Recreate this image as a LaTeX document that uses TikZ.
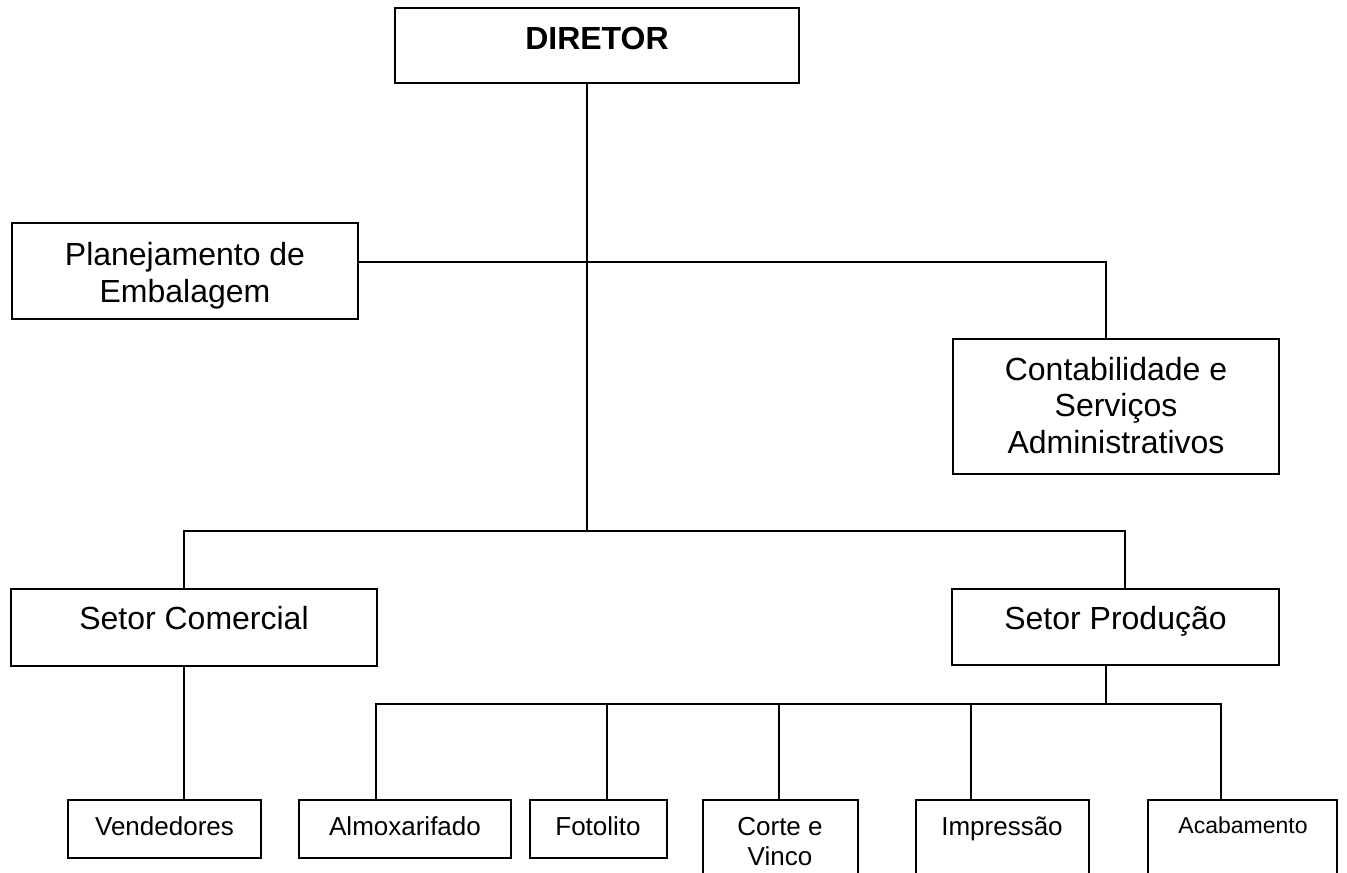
\documentclass[tikz,border=0pt]{standalone}
\usepackage{fontspec}
\setmainfont{Liberation Sans}
\usetikzlibrary{fit}
\tikzset{
  orgbox/.style={draw=black, line width=1.4pt, inner sep=0pt, fill=none},
  conn/.style={draw=black, line width=1.4pt},
  bigtxt/.style={anchor=base, inner sep=0pt, font=\fontsize{32}{37}\selectfont},
  boldtxt/.style={anchor=base, inner sep=0pt, font=\fontsize{32}{37}\selectfont\bfseries},
  smalltxt/.style={anchor=base, inner sep=0pt, font=\fontsize{26}{30}\selectfont},
  tinytxt/.style={anchor=base, inner sep=0pt, font=\fontsize{23}{27}\selectfont},
}
\begin{document}
\begin{tikzpicture}[x=1pt,y=-1pt]
\clip (0,0) rectangle (1347,873);
\fill[white] (0,0) rectangle (1347,873);
% boxes
\node[orgbox, fit={(395,8)(799,83)}] (dir) {};
\node[orgbox, fit={(12,223)(358,319)}] (plan) {};
\node[orgbox, fit={(953,339)(1279,474)}] (cont) {};
\node[orgbox, fit={(11,589)(377,666)}] (com) {};
\node[orgbox, fit={(952,589)(1279,665)}] (prod) {};
\node[orgbox, fit={(68,800)(261,858)}] (vend) {};
\node[orgbox, fit={(299,800)(511,858)}] (alm) {};
\node[orgbox, fit={(530,800)(667,858)}] (foto) {};
\node[orgbox, fit={(703,800)(858,900)}] (corte) {};
\node[orgbox, fit={(916,800)(1089,900)}] (imp) {};
\node[orgbox, fit={(1148,800)(1337,900)}] (acab) {};
% texts
\node[boldtxt] (tdir) at (597,49) {DIRETOR};
\node[bigtxt] (tplan1) at (185,265) {Planejamento de};
\node[bigtxt] (tplan2) at (185,302) {Embalagem};
\node[bigtxt] (tcont1) at (1116,380) {Contabilidade e};
\node[bigtxt] (tcont2) at (1116,416.5) {Serviços};
\node[bigtxt] (tcont3) at (1116,453) {Administrativos};
\node[bigtxt] (tcom) at (194,629) {Setor Comercial};
\node[bigtxt] (tprod) at (1115.5,629) {Setor Produção};
\node[smalltxt] (tvend) at (164.5,835) {Vendedores};
\node[smalltxt] (talm) at (405,835) {Almoxarifado};
\node[smalltxt] (tfoto) at (598,835) {Fotolito};
\node[smalltxt] (tcorte1) at (780,835) {Corte e};
\node[smalltxt] (tcorte2) at (780,865) {Vinco};
\node[smalltxt] (timp) at (1002,835) {Impressão};
\node[tinytxt] (tacab) at (1243,833) {Acabamento};
% junction coordinates
\coordinate (jd) at (587,531);
\coordinate (jp) at (1106,262);
\coordinate (bl) at (184,531);
\coordinate (br) at (1125,531);
\coordinate (pj) at (1106,704);
\coordinate (b1) at (376,704);
\coordinate (b2) at (607,704);
\coordinate (b3) at (779,704);
\coordinate (b4) at (971,704);
\coordinate (b5) at (1221,704);
% connectors
\draw[conn] (dir.south -| jd) -- (jd);
\draw[conn] (plan.east |- jp) -- (jp) -- (cont.north -| jp);
\draw[conn] (com.north -| bl) -- (bl) -- (br) -- (prod.north -| br);
\draw[conn] (com.south -| bl) -- (vend.north -| bl);
\draw[conn] (prod.south -| pj) -- (pj);
\draw[conn] (alm.north -| b1) -- (b1) -- (b5) -- (acab.north -| b5);
\draw[conn] (b2) -- (foto.north -| b2);
\draw[conn] (b3) -- (corte.north -| b3);
\draw[conn] (b4) -- (imp.north -| b4);
\end{tikzpicture}
\end{document}
